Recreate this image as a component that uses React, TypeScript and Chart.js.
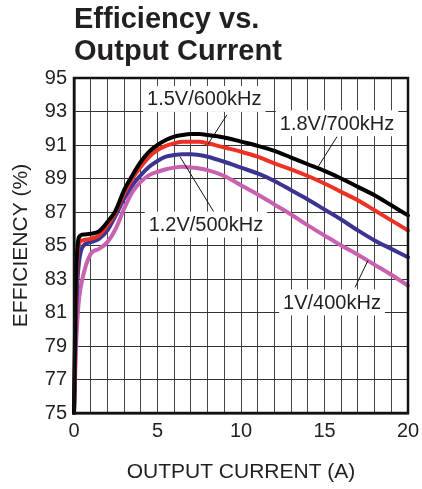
import React, { useEffect, useRef } from 'react';
import { Chart, registerables } from 'chart.js';

Chart.register(...registerables);

// ---- data ----
const currents = [0, 0.05, 0.1, 0.2, 0.3, 0.5, 1, 1.5, 2, 2.5, 3, 3.5, 4, 4.5, 5, 5.5, 6, 6.5, 7, 7.5, 8, 9, 10, 11, 12, 13, 14, 15, 16, 17, 18, 19, 20];
const eff18v = [75, 79, 82.5, 84.8, 85.5, 85.65, 85.7, 85.85, 86.4, 87.1, 88.3, 89.2, 90.0, 90.6, 91.0, 91.3, 91.5, 91.6, 91.65, 91.65, 91.6, 91.45, 91.2, 90.95, 90.65, 90.25, 89.85, 89.45, 89.0, 88.5, 88.0, 87.4, 86.8];
const eff15v = [75, 78, 81.5, 84.3, 85.1, 85.3, 85.4, 85.6, 86.2, 87.0, 88.1, 89.0, 89.7, 90.3, 90.7, 90.95, 91.1, 91.2, 91.2, 91.2, 91.1, 90.85, 90.6, 90.3, 89.9, 89.55, 89.15, 88.7, 88.2, 87.7, 87.1, 86.5, 85.9];
const eff12v = [75, 77, 80, 82.8, 84.0, 84.9, 85.2, 85.4, 85.9, 86.8, 87.8, 88.6, 89.2, 89.7, 90.05, 90.3, 90.4, 90.45, 90.45, 90.4, 90.3, 90.0, 89.65, 89.3, 88.85, 88.3, 87.75, 87.15, 86.55, 85.9, 85.3, 84.8, 84.3];
const eff10v = [75, 76.5, 78.5, 80.5, 81.8, 83.0, 84.5, 84.8, 85.2, 86.0, 87.2, 88.2, 88.8, 89.2, 89.4, 89.55, 89.65, 89.7, 89.65, 89.6, 89.5, 89.15, 88.6, 88.05, 87.45, 86.85, 86.2, 85.6, 85.0, 84.45, 83.85, 83.25, 82.6];
const seriesNames = ['1.8V/700kHz', '1.5V/600kHz', '1.2V/500kHz', '1V/400kHz'];
const xTickLabels = [0, 5, 10, 15, 20];
const yTickLabels = [75, 77, 79, 81, 83, 85, 87, 89, 91, 93, 95];
const titleLines = ['Efficiency vs.', 'Output Current'];
const xTitle = 'OUTPUT CURRENT (A)';
const yTitle = 'EFFICIENCY (%)';

// ---- styling / annotation placement (data coordinates) ----
const seriesColors = ['#000000', '#ed3124', '#3b3591', '#c761b0'];
const labelPlacement = [
  { center: [15.75, 92.3], from: [15.75, 91.5], to: [14.61, 89.69] },
  { center: [7.8, 93.75], from: [9.16, 92.8], to: [8.02, 91.05] },
  { center: [7.9, 86.25], from: [8.56, 86.7], to: [6.35, 90.3] },
  { center: [15.45, 81.6], from: [16.83, 82.5], to: [17.6, 84.1] },
];

const FONT = '"Liberation Sans", Arial, Helvetica, sans-serif';
const TEXT = '#231f20';

const overlayPlugin = {
  id: 'overlay',
  afterDatasetsDraw(chart: any) {
    const { ctx, chartArea, scales } = chart;
    const xs = scales.x;
    const ys = scales.y;
    ctx.save();
    ctx.strokeStyle = '#111';
    ctx.lineWidth = 1;
    labelPlacement.forEach((p) => {
      ctx.beginPath();
      ctx.moveTo(xs.getPixelForValue(p.from[0]), ys.getPixelForValue(p.from[1]));
      ctx.lineTo(xs.getPixelForValue(p.to[0]), ys.getPixelForValue(p.to[1]));
      ctx.stroke();
    });
    ctx.font = `20px ${FONT}`;
    ctx.textAlign = 'center';
    ctx.textBaseline = 'middle';
    labelPlacement.forEach((p, i) => {
      const cx = xs.getPixelForValue(p.center[0]);
      const cy = ys.getPixelForValue(p.center[1]);
      const w = ctx.measureText(seriesNames[i]).width + 8;
      const h = 26;
      ctx.fillStyle = '#ffffff';
      ctx.fillRect(cx - w / 2, cy - h / 2, w, h);
      ctx.fillStyle = TEXT;
      ctx.fillText(seriesNames[i], cx, cy + 1);
    });
    ctx.strokeStyle = '#111';
    ctx.lineWidth = 2.5;
    ctx.strokeRect(chartArea.left, chartArea.top, chartArea.right - chartArea.left, chartArea.bottom - chartArea.top);
    ctx.restore();
  },
  afterDraw(chart: any) {
    const { ctx, chartArea } = chart;
    ctx.save();
    ctx.font = `bold 29px ${FONT}`;
    ctx.fillStyle = TEXT;
    ctx.textAlign = 'left';
    ctx.textBaseline = 'alphabetic';
    ctx.fillText(titleLines[0], chartArea.left, 28);
    ctx.fillText(titleLines[1], chartArea.left, 60);
    ctx.restore();
  },
};

export default function App() {
  const ref = useRef<HTMLCanvasElement | null>(null);
  useEffect(() => {
    document.body.style.margin = '0';
    const series = [eff18v, eff15v, eff12v, eff10v];
    const chart = new Chart(ref.current as HTMLCanvasElement, {
      type: 'line',
      data: {
        datasets: series.map((vals, i) => ({
          label: seriesNames[i],
          data: currents.map((c, j) => ({ x: c, y: vals[j] })),
          borderColor: seriesColors[i],
          backgroundColor: seriesColors[i],
          borderWidth: 4,
          pointRadius: 0,
          cubicInterpolationMode: 'monotone' as const,
          borderCapStyle: 'round' as const,
          borderJoinStyle: 'round' as const,
          clip: false as any,
        })),
      },
      options: {
        animation: false,
        responsive: true,
        maintainAspectRatio: false,
        layout: { padding: { top: 78, right: 14, left: 0, bottom: 0 } },
        plugins: {
          legend: { display: false },
          tooltip: { enabled: false },
          title: { display: false },
        },
        scales: {
          x: {
            type: 'linear',
            min: 0,
            max: 20,
            afterFit: (s: any) => { s.height = 76; s.paddingRight = 0; s.paddingLeft = 0; },
            ticks: {
              stepSize: 1,
              autoSkip: false,
              maxRotation: 0,
              padding: 6,
              color: TEXT,
              font: { family: FONT, size: 20 },
              callback: (v: any) => (xTickLabels.includes(Number(v)) ? String(v) : ''),
            },
            grid: { color: '#444', lineWidth: 1, drawTicks: false },
            border: { display: true, color: '#111', width: 2.5 },
            title: {
              display: true,
              text: xTitle,
              color: TEXT,
              font: { family: FONT, size: 21 },
              padding: { top: 0, bottom: 4 },
            },
          },
          y: {
            type: 'linear',
            min: 75,
            max: 95,
            afterFit: (s: any) => { s.width = 74; s.paddingTop = 0; s.paddingBottom = 0; },
            afterBuildTicks: (s: any) => { s.ticks = yTickLabels.map((v) => ({ value: v })); },
            ticks: {
              padding: 7,
              color: TEXT,
              font: { family: FONT, size: 20 },
              callback: (v: any) => String(v),
            },
            grid: { color: '#333', lineWidth: 1, drawTicks: false },
            border: { display: true, color: '#111', width: 2.5 },
            title: {
              display: true,
              text: yTitle,
              color: TEXT,
              font: { family: FONT, size: 21 },
              padding: { top: 9, bottom: 0 },
            },
          },
        },
      },
      plugins: [overlayPlugin],
    });
    return () => chart.destroy();
  }, []);
  return (
    <div style={{ width: 422, height: 489, position: 'relative', background: '#fff' }}>
      <canvas ref={ref} />
    </div>
  );
}
